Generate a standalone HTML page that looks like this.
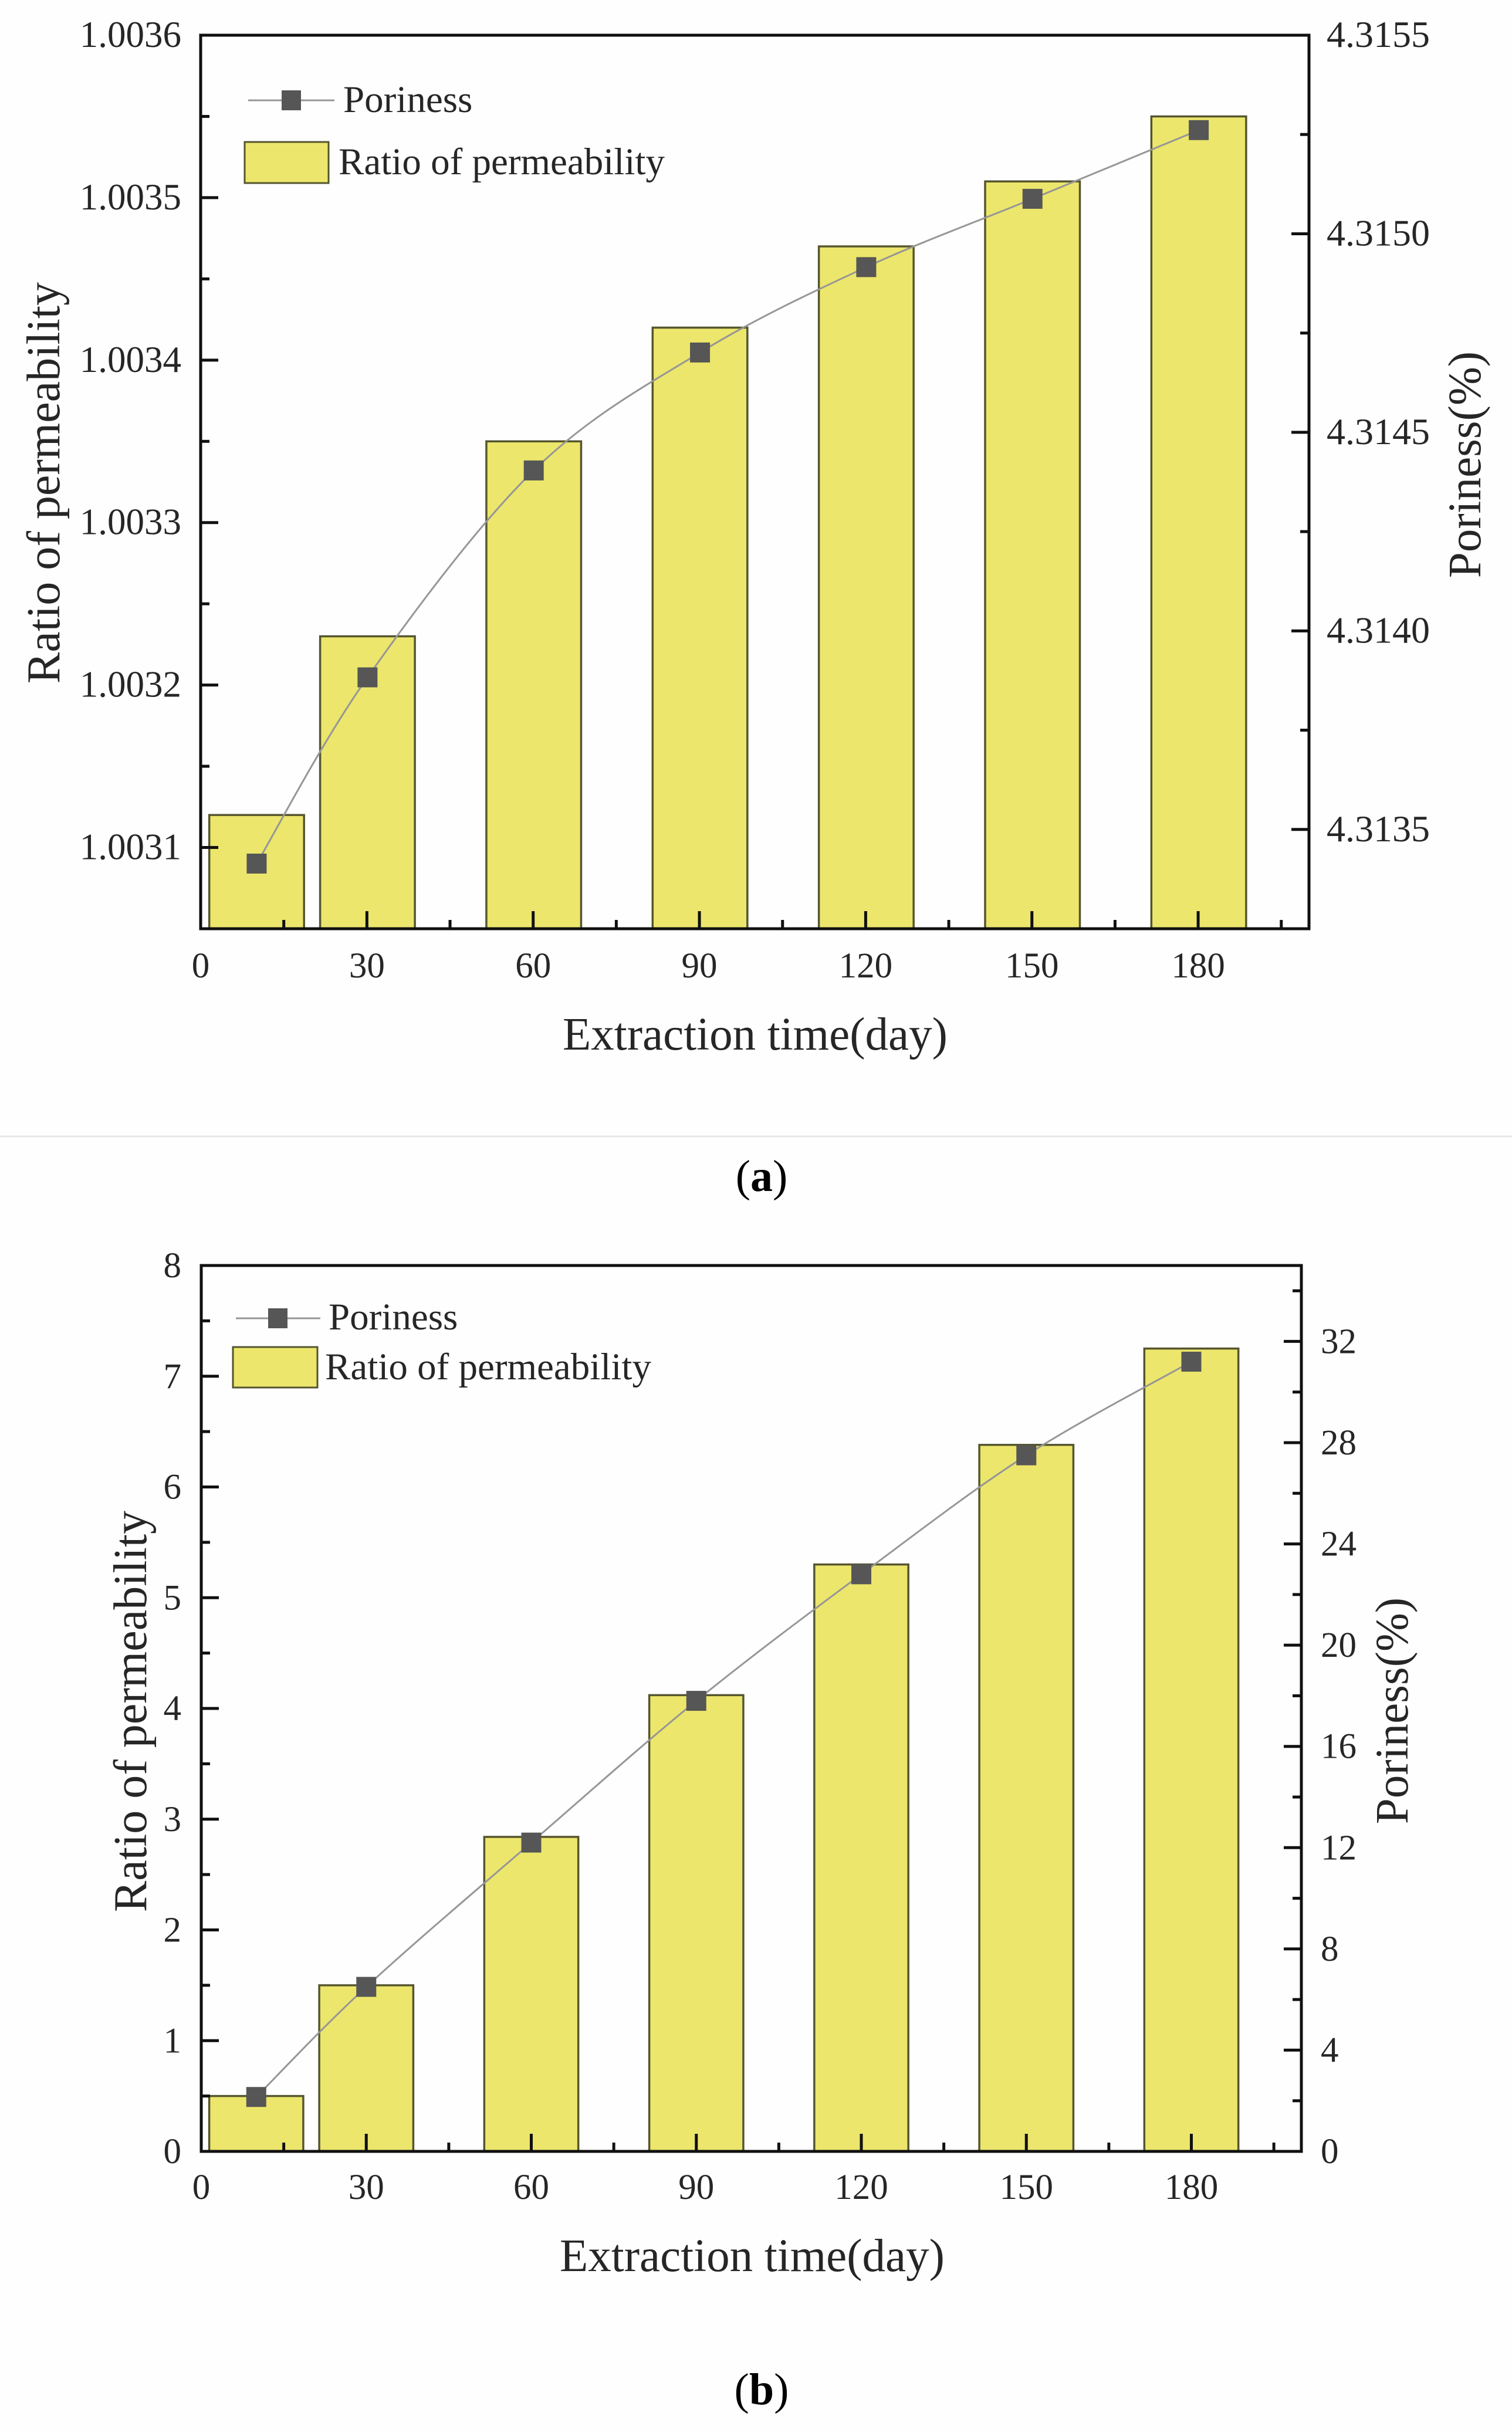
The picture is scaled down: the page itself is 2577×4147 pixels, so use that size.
<!DOCTYPE html>
<html lang="en">
<head>
<meta charset="utf-8">
<title>Ratio of permeability and poriness vs extraction time</title>
<style>
  html, body { margin: 0; padding: 0; background: #fefefe; }
  #figure { display: block; width: 2577px; height: 4147px; }
  text { font-family: "Liberation Serif", serif; fill: #262626; }
</style>
</head>
<body>
<svg id="figure" xmlns="http://www.w3.org/2000/svg" width="2577" height="4147" viewBox="0 0 2577 4147">
  <rect x="0" y="0" width="2577" height="4147" fill="#fefefe"/>

  <g id="chart-a"></g>
  <g id="chart-b"></g>

  <text x="1287" y="1789" font-size="79" text-anchor="middle">Extraction time(day)</text>
  <text transform="translate(101 823) rotate(-90)" font-size="80" text-anchor="middle">Ratio of permeability</text>
  <text transform="translate(2523 792) rotate(-90)" font-size="79" text-anchor="middle">Poriness(%)</text>

  <g>
    <line x1="423" y1="171" x2="570" y2="171" stroke="#969696" stroke-width="3"/>
    <rect x="480" y="154" width="33" height="34" fill="#565656"/>
    <text x="585" y="191" font-size="65">Poriness</text>
    <rect x="417" y="242" width="143" height="70" fill="#ece66c" stroke="#55552f" stroke-width="3"/>
    <text x="577" y="297" font-size="65">Ratio of permeability</text>
  </g>

  <line x1="0" y1="1937" x2="2577" y2="1937" stroke="#e6e6e6" stroke-width="3"/>
  <text x="1298" y="2030" font-size="76" text-anchor="middle" style="fill:#000">(<tspan font-weight="bold">a</tspan>)</text>

  <text x="1282" y="3871" font-size="79" text-anchor="middle">Extraction time(day)</text>
  <text transform="translate(249 2917) rotate(-90)" font-size="80" text-anchor="middle">Ratio of permeability</text>
  <text transform="translate(2399 2916) rotate(-90)" font-size="79" text-anchor="middle">Poriness(%)</text>

  <g>
    <line x1="402" y1="2247" x2="546" y2="2247" stroke="#969696" stroke-width="3"/>
    <rect x="457" y="2230" width="33" height="34" fill="#565656"/>
    <text x="560" y="2266" font-size="65">Poriness</text>
    <rect x="397" y="2296" width="144" height="69" fill="#ece66c" stroke="#55552f" stroke-width="3"/>
    <text x="554" y="2351" font-size="65">Ratio of permeability</text>
  </g>

  <text x="1298" y="4098" font-size="76" text-anchor="middle" style="fill:#000">(<tspan font-weight="bold">b</tspan>)</text>
</svg>

<script>
// Shared categories and x ticks
const extractionDays = [10, 30, 60, 90, 120, 150, 180];
const xTickLabels = ["0", "30", "60", "90", "120", "150", "180"];
const xMinorTicks = [15, 45, 75, 105, 135, 165, 195];

// Chart (a) data
const ratioA = [1.00312, 1.00323, 1.00335, 1.00342, 1.00347, 1.00351, 1.00355];
const porinessA = [4.313414, 4.313883, 4.314404, 4.314701, 4.314916, 4.315088, 4.315261];
const leftTickLabelsA = ["1.0031", "1.0032", "1.0033", "1.0034", "1.0035", "1.0036"];
const leftMinorTicksA = [1.00315, 1.00325, 1.00335, 1.00345, 1.00355];
const rightTickLabelsA = ["4.3135", "4.3140", "4.3145", "4.3150", "4.3155"];
const rightMinorTicksA = [4.31375, 4.31425, 4.31475, 4.31525];

// Chart (b) data
const ratioB = [0.5, 1.5, 2.84, 4.12, 5.3, 6.38, 7.25];
const porinessB = [2.15, 6.5, 12.2, 17.8, 22.8, 27.5, 31.2];
const leftTickLabelsB = ["0", "1", "2", "3", "4", "5", "6", "7", "8"];
const leftMinorTicksB = [0.5, 1.5, 2.5, 3.5, 4.5, 5.5, 6.5, 7.5];
const rightTickLabelsB = ["0", "4", "8", "12", "16", "20", "24", "28", "32"];
const rightMinorTicksB = [2, 6, 10, 14, 18, 22, 26, 30, 34];

const SVG_NS = "http://www.w3.org/2000/svg";
const AXIS_COLOR = "#101010";

function make(parent, tag, attrs, text) {
  const el = document.createElementNS(SVG_NS, tag);
  for (const k in attrs) el.setAttribute(k, attrs[k]);
  if (text !== undefined) el.textContent = text;
  parent.appendChild(el);
  return el;
}

function smoothPath(pts) {
  let d = "M" + pts[0][0] + " " + pts[0][1];
  for (let i = 0; i < pts.length - 1; i++) {
    const p0 = pts[Math.max(i - 1, 0)];
    const p1 = pts[i];
    const p2 = pts[i + 1];
    const p3 = pts[Math.min(i + 2, pts.length - 1)];
    const c1x = p1[0] + (p2[0] - p0[0]) / 6;
    const c1y = p1[1] + (p2[1] - p0[1]) / 6;
    const c2x = p2[0] - (p3[0] - p1[0]) / 6;
    const c2y = p2[1] - (p3[1] - p1[1]) / 6;
    d += " C" + c1x + " " + c1y + " " + c2x + " " + c2y + " " + p2[0] + " " + p2[1];
  }
  return d;
}

function drawChart(root, cfg) {
  const prefix = cfg.prefix;
  const x = function (v) { return cfg.left + (v - cfg.xMin) / (cfg.xMax - cfg.xMin) * (cfg.right - cfg.left); };
  const yL = function (v) { return cfg.bottom - (v - cfg.lMin) / (cfg.lMax - cfg.lMin) * (cfg.bottom - cfg.top); };
  const yR = function (v) { return cfg.bottom - (v - cfg.rMin) / (cfg.rMax - cfg.rMin) * (cfg.bottom - cfg.top); };

  // Bars
  const barHalf = cfg.barDays / 2;
  cfg.days.forEach(function (d, i) {
    const top = yL(cfg.ratio[i]);
    const bar = make(root, "rect", {
      x: x(d - barHalf) + cfg.barShift, y: top,
      width: x(d + barHalf) - x(d - barHalf), height: cfg.bottom - top,
      fill: "#ece66c", stroke: "#55552f", "stroke-width": 3.5
    });
    
    
  });

  // Plot frame
  const frame = make(root, "rect", {
    x: cfg.left, y: cfg.top, width: cfg.right - cfg.left, height: cfg.bottom - cfg.top,
    fill: "none", stroke: AXIS_COLOR, "stroke-width": 5
  });
  
  

  // X ticks
  cfg.xLabels.forEach(function (lab) {
    const v = parseFloat(lab);
    const px = x(v);
    if (v > 0) {
      const t = make(root, "line", { x1: px, y1: cfg.bottom, x2: px, y2: cfg.bottom - 30, stroke: AXIS_COLOR, "stroke-width": 5 });
      
      
    }
    const l = make(root, "text", { x: px, y: cfg.bottom + cfg.xLabelDy, "font-size": 61, "text-anchor": "middle" }, lab);
    
    
  });
  cfg.xMinor.forEach(function (v) {
    const t = make(root, "line", { x1: x(v), y1: cfg.bottom, x2: x(v), y2: cfg.bottom - 15, stroke: AXIS_COLOR, "stroke-width": 5 });
    
    
  });

  // Left axis ticks
  cfg.lLabels.forEach(function (lab) {
    const py = yL(parseFloat(lab));
    const t = make(root, "line", { x1: cfg.left, y1: py, x2: cfg.left + 30, y2: py, stroke: AXIS_COLOR, "stroke-width": 5 });
    
    
    const l = make(root, "text", { x: 309, y: py + 20, "font-size": cfg.lFont, "text-anchor": "end" }, lab);
    
    
  });
  cfg.lMinor.forEach(function (v) {
    const py = yL(v);
    const t = make(root, "line", { x1: cfg.left, y1: py, x2: cfg.left + 15, y2: py, stroke: AXIS_COLOR, "stroke-width": 5 });
    
    
  });

  // Right axis ticks
  cfg.rLabels.forEach(function (lab) {
    const py = yR(parseFloat(lab));
    const t = make(root, "line", { x1: cfg.right, y1: py, x2: cfg.right - 30, y2: py, stroke: AXIS_COLOR, "stroke-width": 5 });
    
    
    const l = make(root, "text", { x: cfg.rLabelX, y: py + 20, "font-size": cfg.rFont }, lab);
    
    
  });
  cfg.rMinor.forEach(function (v) {
    const py = yR(v);
    const t = make(root, "line", { x1: cfg.right, y1: py, x2: cfg.right - 15, y2: py, stroke: AXIS_COLOR, "stroke-width": 5 });
    
    
  });

  // Poriness line and markers
  const pts = cfg.days.map(function (d, i) { return [x(d) + cfg.barShift, yR(cfg.poriness[i])]; });
  const line = make(root, "path", { d: smoothPath(pts), fill: "none", stroke: "#969696", "stroke-width": 3 });
  
  
  pts.forEach(function (p, i) {
    const m = make(root, "rect", { x: p[0] - 17, y: p[1] - 17, width: 34, height: 34, fill: "#565656" });
    
    
  });
}

drawChart(document.getElementById("chart-a"), {
  prefix: "chart-a", left: 342, right: 2231, top: 60, bottom: 1583,
  xMin: 0, xMax: 200, lMin: 1.00305, lMax: 1.0036, rMin: 4.31325, rMax: 4.3155,
  days: extractionDays, ratio: ratioA, poriness: porinessA,
  xLabels: xTickLabels, xMinor: xMinorTicks,
  lLabels: leftTickLabelsA, lMinor: leftMinorTicksA, lFont: 63,
  rLabels: rightTickLabelsA, rMinor: rightMinorTicksA, rFont: 64, rLabelX: 2261,
  barDays: 17.1, barShift: 1, xLabelDy: 83
});

drawChart(document.getElementById("chart-b"), {
  prefix: "chart-b", left: 343, right: 2218, top: 2157, bottom: 3667,
  xMin: 0, xMax: 200, lMin: 0, lMax: 8, rMin: 0, rMax: 35,
  days: extractionDays, ratio: ratioB, poriness: porinessB,
  xLabels: xTickLabels, xMinor: xMinorTicks,
  lLabels: leftTickLabelsB, lMinor: leftMinorTicksB, lFont: 61,
  rLabels: rightTickLabelsB, rMinor: rightMinorTicksB, rFont: 61, rLabelX: 2251,
  barDays: 17.1, barShift: 0, xLabelDy: 81
});
</script>
</body>
</html>
